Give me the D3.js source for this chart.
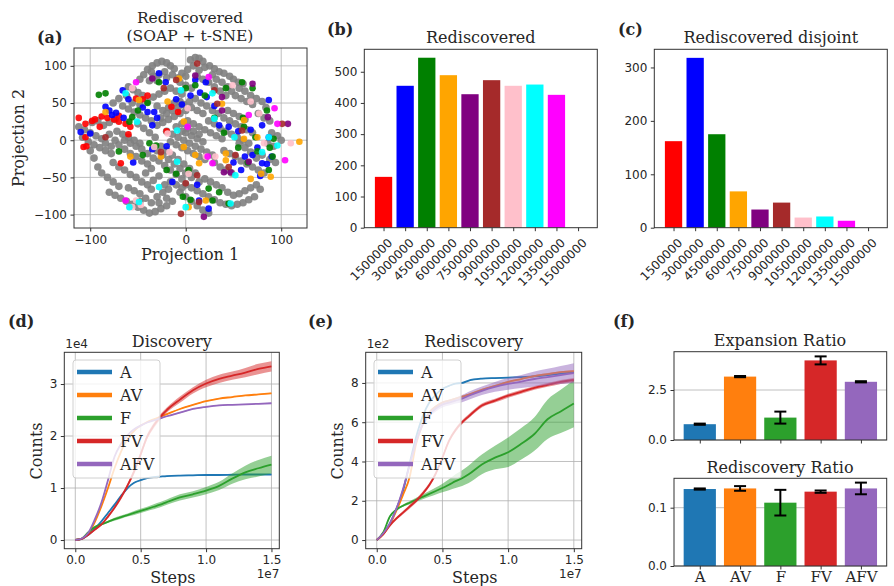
<!DOCTYPE html>
<html>
<head>
<meta charset="UTF-8">
<title>Rediscovery panels</title>
<style>
  body { margin: 0; background: #fff; }
  .tick text { font-family: "DejaVu Sans", sans-serif; font-size: 12px; fill: #262626; }
  .tick line { stroke: #333; }
</style>
</head>
<body>
<script src="https://cdn.jsdelivr.net/npm/d3@7"></script>
<script>

// ---- data ----
var stepLabels = ["1500000","3000000","4500000","6000000","7500000","9000000","10500000","12000000","13500000","15000000"];
var stepColors = ["red","blue","green","orange","purple","brown","pink","cyan","magenta","gray"];
var rediscovered = [163, 455, 545, 489, 428, 473, 455, 459, 426, 0];
var rediscoveredDisjoint = [162, 318, 175, 68, 34, 47, 19, 21, 13, 0];

// t-SNE projection, gray = not rediscovered
var grayPts = [
  [-40,95],[-35,100],[-30,104],[-25,106],[-20,104],[-16,100],[-12,96],[-22,92],[-28,88],[-34,86],[-38,80],[-30,80],
  [5,108],[10,111],[14,110],[18,106],[8,100],[2,95],[-4,90],[-8,84],[0,86],
  [25,100],[30,96],[35,92],[40,90],[46,86],[50,82],[55,78],[60,76],[28,88],[32,82],[38,78],[44,72],[48,66],[56,70],
  [62,66],[68,60],[74,56],[80,52],[70,48],
  [-60,72],[-55,68],[-50,64],[-45,60],[-62,60],[-70,56],[-76,50],[-66,46],[-56,50],[-48,48],[-40,52],[-34,58],
  [-28,62],[-22,66],[-16,70],[-10,66],[-4,62],[-30,46],[-24,40],[-18,44],[-12,50],[-6,52],
  [-112,18],[-106,14],[-100,10],[-94,6],[-88,2],[-108,4],[-102,-2],[-96,-6],[-90,-10],[-84,-14],[-78,-18],
  [-86,20],[-80,24],[-74,28],[-92,26],[-98,24],
  [-72,12],[-66,8],[-60,4],[-54,0],[-48,-4],[-70,-6],[-64,-12],[-58,-18],[-52,-22],[-46,-28],[-40,-32],
  [-76,-30],[-70,-36],[-64,-40],[-58,-46],[-52,-50],[-46,-56],[-40,-60],[-34,-54],[-28,-48],[-42,-44],[-36,-38],
  [-30,20],[-24,24],[-18,28],[-12,32],[-6,36],[0,40],[6,44],[12,40],[18,36],[-20,12],[-14,8],[-8,4],[-2,0],
  [4,-4],[10,-8],[16,-12],[22,-16],[28,-20],[-10,18],[-4,22],[2,26],[8,22],[14,18],[20,14],[26,10],[32,6],[38,2],
  [0,10],[6,6],[12,2],[18,-2],[-26,-8],[-20,-14],[-14,-20],[-8,-26],[-2,-32],[4,-38],[10,-44],[-32,4],[-38,10],
  [-44,16],[-50,22],
  [40,30],[46,26],[52,22],[58,18],[64,14],[70,10],[44,40],[50,36],[56,32],[62,28],
  [40,-14],[46,-18],[52,-22],[58,-28],[64,-32],[70,-36],[76,-40],[82,-44],[30,-30],[36,-36],[42,-40],[48,-44],
  [0,-60],[6,-64],[12,-68],[18,-72],[24,-76],[30,-80],[36,-84],[42,-86],[48,-88],[54,-86],[60,-84],[66,-80],
  [72,-76],[-6,-70],[0,-76],[6,-82],[12,-88],[18,-94],[24,-98],[14,-56],[20,-52],[26,-56],[32,-60],[38,-64],
  [-80,-70],[-74,-74],[-68,-78],[-62,-82],[-56,-86],[-50,-90],[-44,-94],[-38,-98],[-32,-96],[-26,-92],[-20,-88],
  [-14,-82],[-30,-76],[-24,-70],[-18,-66],[-60,-64],[-54,-68],[-48,-72],
  [-36,26],[-42,30],[-48,34],[-54,38],[-60,42],[-26,30],[-20,36],[-14,40],[-8,44],[-2,48],[4,52],[10,56],[16,50],
  [22,46],[28,40],[34,36],[24,26],[30,22],[36,16],[42,12],[48,8],[54,4],[60,0],[66,-4],[-4,12],[2,16],[8,12],
  [14,8],[-16,-2],[-10,-6],[-4,-10],[2,-14],[8,-18],[14,-22],[20,-26],[-30,-14],[-24,-20],[-18,-26],[-12,-32],
  [-6,-38],[0,-44],[6,-50],[-22,-34],[-16,-40],[-10,-46],[-4,-52],[-28,-28],[-34,-24],[-40,-18],[-46,-12],
  [-52,-8],[-58,-4],[-64,0],[-80,8],[-84,-4],[-78,-8],[-74,0],
  [-44,88],[-48,82],[-36,92],[-20,84],[-14,88],[-6,78],[0,74],[6,70],[14,94],[20,98],[12,86],[18,82],[24,78],
  [30,72],[36,66],[42,60],[52,60],[58,56],[64,52],[84,44],[76,36],[82,30],[88,26],
  [90,10],[96,6],[100,0],[86,-4],[92,-8],[80,-20],[88,-26],[94,-30],[74,-24],[68,-16],[62,-10],[56,-4],
  [-10,-60],[-16,-56],[-22,-60],[-4,-64],[44,-70],[50,-74],[56,-72],[62,-68],[68,-64],[74,-60],[78,-66],
  [-36,-66],[-42,-78],[-48,-82],[-36,-84],[-28,-84],[-20,-78],[-70,-62],[-76,-56],[-82,-50],[-88,-44],[-92,-36],
  [-96,-24],[-100,-14]
];
// [x, y, step index]
var colorPts = [
  [-112,30,0],[-105,22,0],[-98,26,0],[-95,28,0],[-88,32,0],[-82,30,0],[-75,28,0],[-70,25,0],[-63,22,0],[-58,18,0],
  [-105,4,0],[-107,-9,0],[-68,-31,0],[-52,56,0],[-45,55,0],[-40,60,0],[-15,45,0],[-8,38,0],[-20,12,0],[-104,-8,0],
  [-60,8,0],[-70,33,0],[-90,18,0],
  [-110,11,1],[-100,9,1],[-84,45,1],[-77,34,1],[-66,67,1],[-33,38,1],[-21,78,1],[-28,90,1],[10,81,1],[21,78,1],
  [45,18,1],[80,20,1],[87,4,1],[70,-20,1],[80,-31,1],[87,54,1],[-14,-56,1],[24,-92,1],[14,-81,1],[-73,37,1],
  [-65,30,1],[-45,44,1],[-40,38,1],[-30,30,1],[-10,55,1],[-4,48,1],[5,60,1],[15,64,1],[22,58,1],[30,46,1],
  [35,20,1],[55,12,1],[68,14,1],[75,-10,1],[62,-22,1],[58,-40,1],[85,-32,1],[90,-22,1],[78,-48,1],[50,-30,1],
  [-20,-8,1],[-35,-12,1],[-60,55,1],[-80,40,1],[-55,-30,1],[-35,20,1],[12,-60,1],
  [-91,61,2],[-84,63,2],[-28,78,2],[10,74,2],[42,70,2],[59,78,2],[70,70,2],[61,18,2],[73,4,2],[91,-22,2],
  [87,-40,2],[3,-40,2],[24,-65,2],[28,-81,2],[-3,-76,2],[-31,-7,2],[-38,-4,2],[-59,25,2],[-56,31,2],[-70,-15,2],
  [-50,40,2],[-40,50,2],[0,70,2],[20,60,2],[30,30,2],[40,10,2],[55,-10,2],[65,-30,2],[75,-15,2],[88,-10,2],
  [92,2,2],[-10,-45,2],[35,-70,2],[45,-85,2],[5,-80,2],[-45,-20,2],[60,30,2],[85,40,2],[-20,-40,2],
  [-84,38,3],[-58,-22,3],[-49,54,3],[-19,52,3],[-7,83,3],[-2,25,3],[-2,-9,3],[10,-20,3],[14,-31,3],[42,-18,3],
  [42,-27,3],[61,2,3],[75,4,3],[79,-45,3],[89,-49,3],[68,-52,3],[38,49,3],[61,27,3],[119,-2,3],[21,-81,3],
  [3,-90,3],[-26,-22,3],
  [-35,83,4],[10,87,4],[38,58,4],[38,40,4],[70,76,4],[86,31,4],[107,22,4],[40,-43,4],[47,-43,4],[19,-103,4],
  [66,-29,4],
  [-84,4,5],[-10,81,5],[12,103,5],[30,67,5],[33,49,5],[52,-20,5],[45,-36,5],[0,-58,5],[14,-83,5],[-5,-99,5],
  [59,13,5],[101,22,5],[-26,-16,5],[12,-47,5],[-23,70,5],
  [-56,70,6],[-33,-9,6],[-19,9,6],[2,43,6],[21,-22,6],[49,74,6],[68,52,6],[77,36,6],[31,-22,6],[-47,-87,6],
  [-52,-81,6],[110,-4,6],[82,-4,6],[-17,-16,6],[3,-45,6],[-56,-90,6],
  [-63,63,7],[-51,25,7],[-9,13,7],[-5,67,7],[28,63,7],[30,29,7],[51,4,7],[87,4,7],[96,-7,7],[-9,-29,7],
  [-28,-63,7],[-49,-83,7],[-59,-90,7],[0,-90,7],[47,-85,7],[80,-16,7],[52,-47,7],
  [-52,78,8],[24,85,8],[-63,-81,8],[93,43,8],[96,22,8],[66,34,8],[2,18,8],[23,-22,8],[104,-27,8],[28,-31,8]
];

// training curves: steps in units of 1e7
var stepsE7 = [0, 0.05, 0.1, 0.15, 0.2, 0.25, 0.3, 0.35, 0.4, 0.45, 0.5, 0.55, 0.6, 0.65, 0.7, 0.8, 0.9, 1.0, 1.1, 1.2, 1.3, 1.4, 1.5];
var agents = ["A", "AV", "F", "FV", "AFV"];
var agentColors = ["#1f77b4", "#ff7f0e", "#2ca02c", "#d62728", "#9467bd"];

// discovery counts in units of 1e4 (mean, spread)
var discA   = [0, .02, .1, .22, .36, .52, .68, .85, 1.0, 1.1, 1.15, 1.19, 1.21, 1.22, 1.23, 1.24, 1.245, 1.25, 1.25, 1.255, 1.26, 1.26, 1.26];
var discAV  = [0, .03, .12, .35, .65, 1.0, 1.38, 1.7, 1.95, 2.1, 2.2, 2.27, 2.32, 2.37, 2.42, 2.52, 2.6, 2.67, 2.72, 2.75, 2.78, 2.8, 2.82];
var discF   = [0, .03, .15, .25, .3, .35, .4, .44, .48, .52, .56, .6, .64, .68, .73, .82, .88, .95, 1.04, 1.18, 1.3, 1.38, 1.45];
var discFV  = [0, .02, .1, .2, .3, .45, .62, .82, 1.05, 1.32, 1.65, 1.99, 2.2, 2.37, 2.5, 2.7, 2.88, 3.01, 3.1, 3.16, 3.22, 3.29, 3.34];
var discAFV = [0, .03, .14, .4, .72, 1.15, 1.6, 1.85, 2.02, 2.13, 2.2, 2.26, 2.3, 2.34, 2.38, 2.45, 2.52, 2.56, 2.59, 2.6, 2.61, 2.62, 2.63];
var discSdA   = [0, 0, .01, .01, .01, .01, .01, .01, .01, .01, .01, .01, .01, .01, .01, .01, .01, .01, .01, .01, .01, .01, .01];
var discSdAV  = [0, 0, .01, .01, .01, .01, .01, .01, .01, .01, .01, .01, .01, .01, .01, .01, .01, .01, .01, .01, .01, .01, .01];
var discSdF   = [0, 0, .01, .02, .02, .02, .03, .03, .03, .04, .04, .04, .05, .05, .05, .06, .06, .07, .08, .1, .13, .16, .17];
var discSdFV  = [0, 0, .01, .02, .02, .03, .03, .04, .04, .05, .05, .05, .05, .05, .05, .06, .06, .07, .08, .08, .09, .1, .1];
var discSdAFV = [0, 0, .01, .01, .01, .01, .01, .01, .01, .01, .01, .01, .01, .01, .01, .01, .01, .01, .01, .01, .01, .01, .01];

// rediscovery counts in units of 1e2
var redA   = [0, .35, .85, 1.6, 2.5, 3.9, 5.25, 6.3, 7.0, 7.4, 7.7, 7.85, 7.97, 8.0, 8.12, 8.22, 8.25, 8.27, 8.3, 8.33, 8.4, 8.47, 8.55];
var redAV  = [0, .3, .8, 1.5, 2.3, 3.2, 4.9, 5.9, 6.5, 6.8, 7.0, 7.1, 7.2, 7.3, 7.4, 7.65, 7.85, 8.05, 8.2, 8.35, 8.45, 8.55, 8.6];
var redF   = [0, .4, 1.2, 1.55, 1.75, 1.9, 2.05, 2.2, 2.35, 2.5, 2.65, 2.82, 3.0, 3.15, 3.35, 3.85, 4.2, 4.47, 4.9, 5.4, 6.15, 6.55, 6.95];
var redFV  = [0, .3, .75, 1.1, 1.4, 1.7, 2.0, 2.37, 2.8, 3.4, 4.2, 5.05, 5.6, 6.0, 6.3, 6.85, 7.1, 7.35, 7.55, 7.75, 7.9, 8.05, 8.15];
var redAFV = [0, .35, .85, 1.6, 2.6, 3.8, 5.0, 5.9, 6.4, 6.7, 6.9, 7.0, 7.1, 7.2, 7.35, 7.6, 7.8, 7.95, 8.07, 8.2, 8.3, 8.4, 8.5];
var redSdA   = [0, .02, .03, .03, .03, .03, .03, .03, .03, .03, .03, .03, .03, .03, .03, .03, .03, .03, .03, .03, .03, .03, .03];
var redSdAV  = [0, .02, .03, .03, .04, .04, .05, .05, .05, .05, .05, .05, .05, .05, .05, .05, .05, .05, .05, .05, .05, .05, .05];
var redSdF   = [0, .03, .05, .05, .06, .08, .1, .12, .15, .18, .22, .28, .35, .4, .45, .5, .6, .75, .8, .85, 1.0, 1.1, 1.2];
var redSdFV  = [0, .05, .08, .08, .08, .1, .1, .1, .1, .1, .1, .1, .1, .1, .1, .1, .1, .1, .1, .1, .1, .1, .1];
var redSdAFV = [0, .02, .05, .08, .1, .12, .15, .15, .15, .15, .15, .15, .15, .18, .2, .22, .25, .3, .33, .38, .42, .46, .5];

var expansionRatio = [0.79, 3.17, 1.12, 3.98, 2.91];
var expansionErr   = [0.03, 0.03, 0.3, 0.2, 0.03];
var rediscRatio    = [0.132, 0.133, 0.1086, 0.1275, 0.133];
var rediscErr      = [0.001, 0.004, 0.022, 0.002, 0.01];

// ---- drawing helpers ----
var svg = d3.select("body").append("svg").attr("width", 894).attr("height", 586);
svg.append("rect").attr("width", 894).attr("height", 586).attr("fill", "#fff");

var SERIF = '"DejaVu Serif", serif';
var SANS = '"DejaVu Sans", sans-serif';

function text(g, x, y, s, o) {
  o = o || {};
  var t = g.append("text").attr("x", x).attr("y", y).text(s)
    .attr("font-family", o.family || SERIF)
    .attr("font-size", o.size || 16)
    .attr("font-weight", o.bold ? "bold" : null)
    .attr("fill", "#262626")
    .attr("text-anchor", o.anchor || "middle");
  if (o.rotate) t.attr("transform", "rotate(" + o.rotate + "," + x + "," + y + ")");
  return t;
}

function grid(g, xs, ys, sx, sy) {
  var xr = sx.range(), yr = sy.range();
  g.selectAll(null).data(xs).enter().append("line")
    .attr("x1", d => sx(d)).attr("x2", d => sx(d)).attr("y1", yr[0]).attr("y2", yr[1])
    .attr("stroke", "#b0b0b0").attr("stroke-width", 0.8);
  g.selectAll(null).data(ys).enter().append("line")
    .attr("y1", d => sy(d)).attr("y2", d => sy(d)).attr("x1", xr[0]).attr("x2", xr[1])
    .attr("stroke", "#b0b0b0").attr("stroke-width", 0.8);
}

function frame(g, sx, sy) {
  var xr = sx.range(), yr = sy.range();
  g.append("rect").attr("x", xr[0]).attr("y", yr[1])
    .attr("width", xr[1] - xr[0]).attr("height", yr[0] - yr[1])
    .attr("fill", "none").attr("stroke", "#333").attr("stroke-width", 1);
}

function axisBottom(g, sx, y, vals, fmt, pad) {
  return g.append("g").attr("transform", "translate(0," + y + ")")
    .call(d3.axisBottom(sx).tickValues(vals).tickFormat(fmt).tickSize(3.5).tickPadding(pad == null ? 3.5 : pad))
    .call(a => a.select(".domain").remove());
}
function axisLeft(g, sy, x, vals, fmt) {
  return g.append("g").attr("transform", "translate(" + x + ",0)")
    .call(d3.axisLeft(sy).tickValues(vals).tickFormat(fmt).tickSize(3.5).tickPadding(3.5))
    .call(a => a.select(".domain").remove());
}

// ---- (a) t-SNE scatter ----
var gA = svg.append("g");
var ax = d3.scaleLinear().domain([-117, 127]).range([74, 307]);
var ay = d3.scaleLinear().domain([-118, 124]).range([228, 48]);
grid(gA, [-100, 0, 100], [-100, -50, 0, 50, 100], ax, ay);
gA.selectAll(null).data(grayPts).enter().append("circle")
  .attr("cx", d => ax(d[0])).attr("cy", d => ay(d[1])).attr("r", 3.8)
  .attr("fill", "#808080").attr("fill-opacity", 0.9);
gA.selectAll(null).data(colorPts).enter().append("circle")
  .attr("cx", d => ax(d[0])).attr("cy", d => ay(d[1])).attr("r", 3.3)
  .attr("fill", d => stepColors[d[2]]).attr("fill-opacity", 0.9);
frame(gA, ax, ay);
axisBottom(gA, ax, 228, [-100, 0, 100], d3.format("d"));
axisLeft(gA, ay, 74, [-100, -50, 0, 50, 100], d3.format("d"));
text(gA, 190, 23, "Rediscovered", {size: 15.5});
text(gA, 190, 41, "(SOAP + t-SNE)", {size: 15.5});
text(gA, 37, 43, "(a)", {bold: true, anchor: "start"});
text(gA, 190, 260, "Projection 1");
text(gA, 24, 138, "Projection 2", {rotate: -90});

// ---- (b), (c) bar charts ----
function stepBars(vals, x0, x1, ymax, yticks, title, tag, tagX) {
  var g = svg.append("g");
  var sx = d3.scaleLinear().domain([-0.89, 9.89]).range([x0, x1]);
  var sy = d3.scaleLinear().domain([0, ymax]).range([227.7, 49.3]);
  var bw = sx(0.8) - sx(0);
  g.selectAll(null).data(vals).enter().append("rect")
    .attr("x", (d, i) => sx(i - 0.4)).attr("width", bw)
    .attr("y", d => sy(d)).attr("height", d => sy(0) - sy(d))
    .attr("fill", (d, i) => stepColors[i]);
  frame(g, sx, sy);
  axisLeft(g, sy, x0, yticks, d3.format("d"));
  var xa = axisBottom(g, sx, 227.7, d3.range(vals.length), i => stepLabels[i]);
  xa.selectAll("text")
    .attr("x", 0).attr("y", 0).attr("dy", 0)
    .attr("transform", "translate(9,16) rotate(-45)")
    .style("text-anchor", "end").style("font-size", "12px");
  text(g, (x0 + x1) / 2, 43, title);
  text(g, tagX, 35, tag, {bold: true, anchor: "start"});
}
stepBars(rediscovered, 364.3, 597.3, 572, [0, 100, 200, 300, 400, 500], "Rediscovered", "(b)", 327);
stepBars(rediscoveredDisjoint, 654.3, 887.3, 334, [0, 100, 200, 300], "Rediscovered disjoint", "(c)", 618);

// ---- (d), (e) training curves ----
function curvePanel(series, sds, x0, x1, ydom, yticks, title, tag, tagX, offsetTxt, legX) {
  var g = svg.append("g");
  var sx = d3.scaleLinear().domain([-0.084, 1.56]).range([x0, x1]);
  var sy = d3.scaleLinear().domain(ydom).range([548.7, 352.3]);
  grid(g, [0, 0.5, 1.0, 1.5], yticks, sx, sy);
  series.forEach(function(m, k) {
    var s = sds[k];
    var area = d3.area().curve(d3.curveMonotoneX)
      .x((d, i) => sx(stepsE7[i])).y0((d, i) => sy(m[i] - s[i])).y1((d, i) => sy(m[i] + s[i]));
    g.append("path").attr("d", area(m)).attr("fill", agentColors[k]).attr("fill-opacity", 0.5);
    var line = d3.line().curve(d3.curveMonotoneX).x((d, i) => sx(stepsE7[i])).y(d => sy(d));
    g.append("path").attr("d", line(m)).attr("fill", "none")
      .attr("stroke", agentColors[k]).attr("stroke-width", 1.8);
  });
  // legend
  var lg = g.append("g");
  lg.append("rect").attr("x", legX).attr("y", 360).attr("width", 87).attr("height", 118).attr("rx", 3)
    .attr("fill", "#fff").attr("fill-opacity", 0.8).attr("stroke", "#d0d0d0");
  agents.forEach(function(a, k) {
    var y = 372 + k * 23;
    lg.append("line").attr("x1", legX + 4).attr("x2", legX + 39).attr("y1", y).attr("y2", y)
      .attr("stroke", agentColors[k]).attr("stroke-width", 4.5);
    text(lg, legX + 47, y + 5.5, a, {anchor: "start"});
  });
  frame(g, sx, sy);
  axisBottom(g, sx, 548.7, [0, 0.5, 1.0, 1.5], d3.format(".1f"));
  axisLeft(g, sy, x0, yticks, d3.format("d"));
  text(g, (x0 + x1) / 2, 347, title);
  text(g, tagX, 327, tag, {bold: true, anchor: "start"});
  text(g, x0 + 1, 348, offsetTxt, {family: SANS, size: 12, anchor: "start"});
  text(g, x1, 578, "1e7", {family: SANS, size: 12, anchor: "end"});
  text(g, (x0 + x1) / 2 + 1, 583, "Steps");
  return g;
}
curvePanel([discA, discAV, discF, discFV, discAFV], [discSdA, discSdAV, discSdF, discSdFV, discSdAFV],
  64.3, 279.3, [-0.167, 3.61], [0, 1, 2, 3], "Discovery", "(d)", 8, "1e4", 73);
text(svg, 42, 451, "Counts", {rotate: -90});
curvePanel([redA, redAV, redF, redFV, redAFV], [redSdA, redSdAV, redSdF, redSdFV, redSdAFV],
  365.7, 581.7, [-0.44, 9.56], [0, 2, 4, 6, 8], "Rediscovery", "(e)", 308, "1e2", 374);
text(svg, 342.5, 451, "Counts", {rotate: -90});

// ---- (f) ratios ----
function ratioBars(vals, errs, y0, y1, ymax, yticks, fmt, title, titleY, labels) {
  var g = svg.append("g");
  var sx = d3.scaleLinear().domain([-0.64, 4.64]).range([674, 886.7]);
  var sy = d3.scaleLinear().domain([0, ymax]).range([y0, y1]);
  grid(g, [], yticks, sx, sy);
  var bw = sx(0.8) - sx(0);
  g.selectAll(null).data(vals).enter().append("rect")
    .attr("x", (d, i) => sx(i - 0.4)).attr("width", bw)
    .attr("y", d => sy(d)).attr("height", d => sy(0) - sy(d))
    .attr("fill", (d, i) => agentColors[i]);
  var eb = g.selectAll(null).data(vals).enter().append("g");
  eb.append("line").attr("x1", (d, i) => sx(i)).attr("x2", (d, i) => sx(i))
    .attr("y1", (d, i) => sy(d - errs[i])).attr("y2", (d, i) => sy(d + errs[i]));
  eb.append("line").attr("x1", (d, i) => sx(i) - 6).attr("x2", (d, i) => sx(i) + 6)
    .attr("y1", (d, i) => sy(d - errs[i])).attr("y2", (d, i) => sy(d - errs[i]));
  eb.append("line").attr("x1", (d, i) => sx(i) - 6).attr("x2", (d, i) => sx(i) + 6)
    .attr("y1", (d, i) => sy(d + errs[i])).attr("y2", (d, i) => sy(d + errs[i]));
  eb.selectAll("line").attr("stroke", "#000").attr("stroke-width", 2);
  frame(g, sx, sy);
  axisLeft(g, sy, 674, yticks, fmt);
  var xa = axisBottom(g, sx, y0, d3.range(vals.length), i => labels ? agents[i] : "", 2);
  xa.selectAll("text").style("font-family", SERIF).style("font-size", "15px");
  text(g, 780, titleY, title);
}
ratioBars(expansionRatio, expansionErr, 440, 351.7, 4.415, [0, 2.5], d3.format(".1f"), "Expansion Ratio", 346, false);
ratioBars(rediscRatio, rediscErr, 566, 478.3, 0.1504, [0, 0.1], d3.format(".1f"), "Rediscovery Ratio", 473, true);
text(svg, 613, 327, "(f)", {bold: true, anchor: "start"});

</script>
</body>
</html>
